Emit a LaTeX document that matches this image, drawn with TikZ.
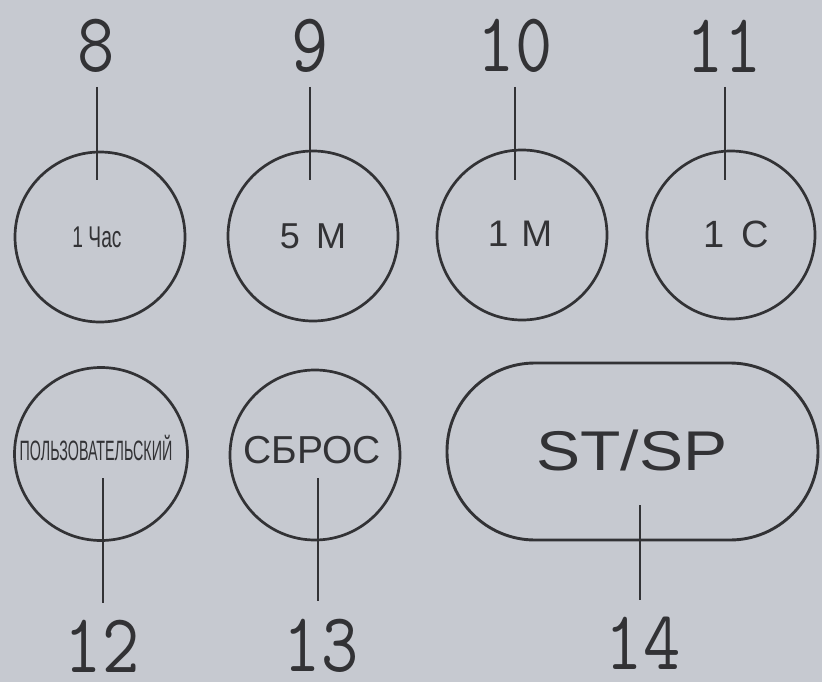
\documentclass[tikz,border=0pt]{standalone}
\usepackage{fontspec}
\setmainfont{Liberation Sans}
\usepackage{graphicx}
\definecolor{bg}{RGB}{198,201,208}
\definecolor{ink}{RGB}{50,50,53}
\tikzset{
  btn/.style={draw=ink, line width=2.7pt, circle, inner sep=0pt, text=ink},
  pill/.style={draw=ink, line width=2.9pt, rectangle, rounded corners=88pt, inner sep=0pt, text=ink},
  num/.style={text=ink, inner sep=0pt, font=\ttfamily\fontsize{84}{88}\selectfont},
  lead/.style={draw=ink, line width=1.3pt}
}
\newcommand{\numtxt}[1]{\scalebox{0.86}[1]{#1}}
\begin{document}
\begin{tikzpicture}[x=1pt,y=-1pt]
\fill[bg] (0,0) rectangle (822,682);
\useasboundingbox (0,0) rectangle (822,682);

% top row buttons
\node[btn, minimum size=170pt] (b8) at (100,237) {};
\node[text=ink, inner sep=0pt] (t8) at (97,237) {\scalebox{0.64}[1]{\fontsize{30}{34}\selectfont 1 Час}};
\node[btn, minimum size=170pt] (b9) at (313,236) {\fontsize{36}{40}\selectfont 5\hspace{0.45em}M};
\node[btn, minimum size=170pt] (b10) at (522,235) {};
\node[text=ink, inner sep=0pt] (t10) at (520,234) {\fontsize{37}{40}\selectfont 1\hspace{0.35em}M};
\node[btn, minimum size=168pt] (b11) at (731,235) {};
\node[text=ink, inner sep=0pt] (t11) at (736,234) {\fontsize{38}{40}\selectfont 1\hspace{0.45em}C};

% bottom row buttons
\node[btn, minimum size=173pt] (b12) at (101,454) {};
\node[text=ink, inner sep=0pt] (t12) at (96,448) {\scalebox{0.51}[1]{\fontsize{28}{32}\selectfont ПОЛЬЗОВАТЕЛЬСКИЙ}};
\node[btn, minimum size=170pt] (b13) at (315,455) {};
\node[text=ink, inner sep=0pt] (t13) at (312,450) {\fontsize{39}{44}\selectfont СБРОС};
\node[pill, minimum width=371pt, minimum height=177pt] (b14) at (632.5,451.5) {};
\node[text=ink, inner sep=0pt] (t14) at (632,450) {\scalebox{1.18}[1]{\fontsize{56}{60}\selectfont ST/SP}};

% numbers
\node[num] (n8) at (96,46) {\numtxt{8}};
\node[num] (n9) at (310,46) {\numtxt{9}};
\node[num] (n10) at (515,46) {\numtxt{10}};
\node[num] (n11) at (724,46) {\numtxt{11}};
\node[num] (n12) at (102,646) {\numtxt{12}};
\node[num] (n13) at (321,646) {\numtxt{13}};
\node[num] (n14) at (643,643) {\numtxt{14}};

% leader line ends
\coordinate (e8) at (97,180);
\coordinate (e9) at (310,180);
\coordinate (e10) at (515,180);
\coordinate (e11) at (725,180);
\coordinate (e12) at (103,478);
\coordinate (e13) at (318,478);
\coordinate (e14) at (640,505);

\draw[lead] (e8 |- 0,87) -- (e8);
\draw[lead] (e9 |- 0,87) -- (e9);
\draw[lead] (e10 |- 0,87) -- (e10);
\draw[lead] (e11 |- 0,87) -- (e11);
\draw[lead] (e12) -- (e12 |- 0,603);
\draw[lead] (e13) -- (e13 |- 0,601);
\draw[lead] (e14) -- (e14 |- 0,600);
\end{tikzpicture}
\end{document}
